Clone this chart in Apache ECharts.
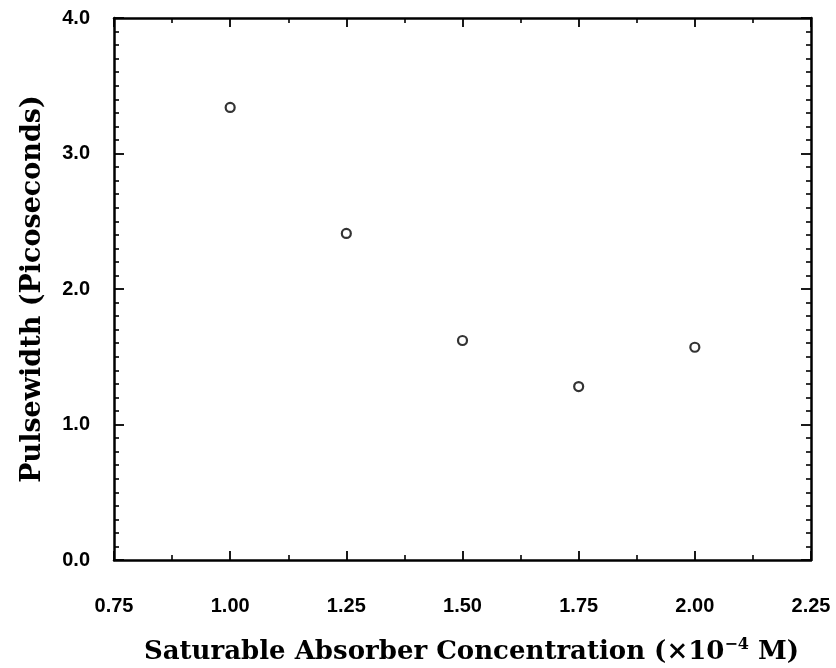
<!DOCTYPE html>
<html>
<head>
<meta charset="utf-8">
<script src="https://cdn.jsdelivr.net/npm/echarts@6/dist/echarts.min.js"></script>
<style>
  html, body { margin: 0; padding: 0; background: #fff; }
  #chart { width: 836px; height: 668px; }
</style>
</head>
<body>
<div id="chart"></div>
<script>
// Saturable absorber concentration (×10^-4 M) vs. measured pulsewidth (ps)
const concentration = [1.00, 1.25, 1.50, 1.75, 2.00];
const pulsewidth = [3.34, 2.41, 1.62, 1.28, 1.57];
const xTickLabels = ['0.75', '1.00', '1.25', '1.50', '1.75', '2.00', '2.25'];
const yTickLabels = ['0.0', '1.0', '2.0', '3.0', '4.0'];

const ink = '#000';
const tickFont = { color: ink, fontFamily: 'Liberation Sans, Arial, sans-serif', fontWeight: 'bold', fontSize: 20 };
const titleFont = 'DejaVu Serif, Liberation Serif, serif';

function xLabel(v) {
  const i = Math.round((v - 0.75) / 0.25);
  return xTickLabels[i] !== undefined ? xTickLabels[i] : '';
}
function yLabel(v) {
  const i = Math.round(v);
  return yTickLabels[i] !== undefined ? yTickLabels[i] : '';
}

const lineStyle = { color: ink, width: 2.5 };

function baseX(pos, showLabels) {
  return {
    type: 'value', position: pos, min: 0.75, max: 2.25, interval: 0.25,
    axisLine: { show: true, onZero: false, lineStyle: lineStyle },
    axisTick: { show: true, inside: true, length: 9, lineStyle: { color: ink, width: 1.8 } },
    minorTick: { show: true, splitNumber: 2, length: 5, lineStyle: { color: ink, width: 1.6 } },
    splitLine: { show: false },
    axisLabel: Object.assign({ show: showLabels, margin: 36, formatter: xLabel }, tickFont)
  };
}
function baseY(pos, showLabels) {
  return {
    type: 'value', position: pos, min: 0, max: 4, interval: 1,
    axisLine: { show: true, onZero: false, lineStyle: lineStyle },
    axisTick: { show: true, inside: true, length: 10, lineStyle: { color: ink, width: 1.8 } },
    minorTick: { show: true, splitNumber: 10, length: 5, lineStyle: { color: ink, width: 1.6 } },
    splitLine: { show: false },
    axisLabel: Object.assign({ show: showLabels, margin: 24, formatter: yLabel }, tickFont)
  };
}

const xBottom = baseX('bottom', true);
xBottom.name = '{t|Saturable Absorber Concentration (×10}{s|−4}{t| M)}';
xBottom.nameLocation = 'middle';
xBottom.nameGap = 77;
xBottom.nameTextStyle = {
  padding: [0, 0, 0, 18],
  rich: {
    t: { fontFamily: titleFont, fontWeight: 'bold', fontSize: 26, color: ink, verticalAlign: 'bottom' },
    s: { fontFamily: titleFont, fontWeight: 'bold', fontSize: 16, color: ink, verticalAlign: 'bottom', padding: [0, 0, 12, 0] }
  }
};

const yLeft = baseY('left', true);
yLeft.name = 'Pulsewidth (Picoseconds)';
yLeft.nameLocation = 'middle';
yLeft.nameGap = 68;
yLeft.nameTextStyle = { fontFamily: titleFont, fontWeight: 'bold', fontSize: 27, color: ink };

const chart = echarts.init(document.getElementById('chart'), null, { renderer: 'canvas' });
chart.setOption({
  backgroundColor: '#fff',
  animation: false,
  grid: { left: 114, right: 25, top: 18, bottom: 108, containLabel: false, outerBoundsMode: 'none' },
  xAxis: [xBottom, baseX('top', false)],
  yAxis: [yLeft, baseY('right', false)],
  series: [{
    type: 'scatter',
    xAxisIndex: 0, yAxisIndex: 0,
    data: concentration.map((c, i) => [c, pulsewidth[i]]),
    symbol: 'circle',
    symbolSize: 9,
    itemStyle: { color: '#fff', borderColor: ink, borderWidth: 2.2 }
  }]
});
</script>
</body>
</html>
